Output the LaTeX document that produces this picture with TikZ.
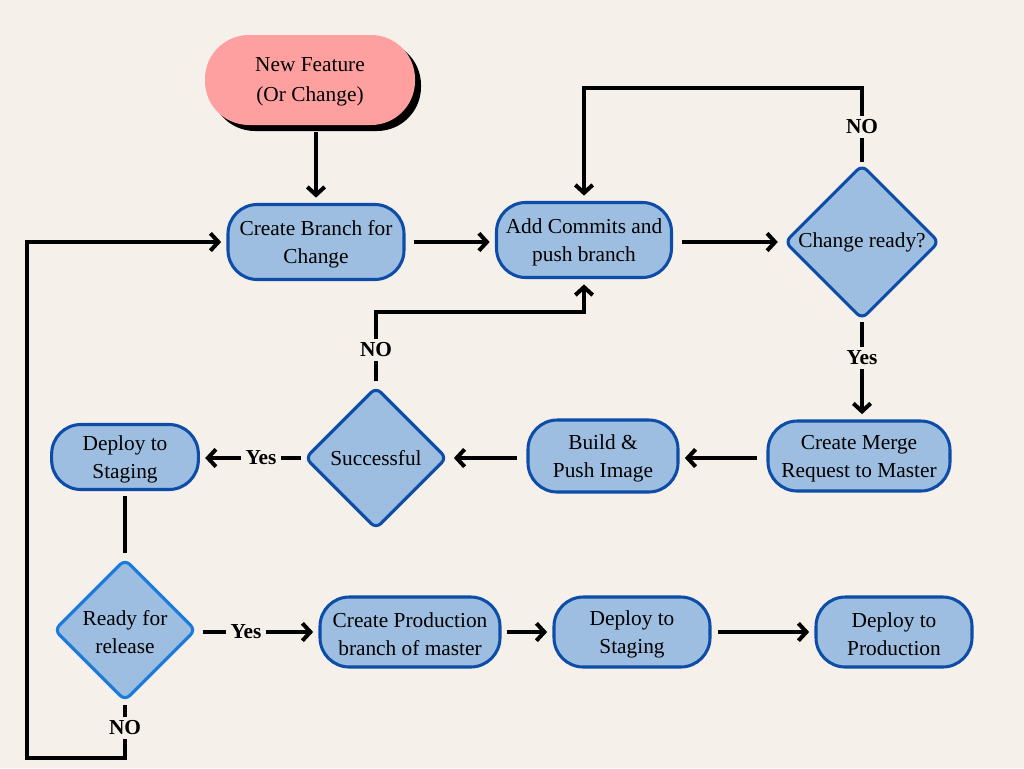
\documentclass[tikz,border=0pt]{standalone}
\usepackage{fontspec}
\setmainfont{Liberation Serif}
\usetikzlibrary{shapes.geometric,arrows.meta,shadows}
\definecolor{bg}{HTML}{F5F0EA}
\definecolor{boxfill}{HTML}{9DBEE0}
\definecolor{boxline}{HTML}{0D4DA8}
\definecolor{lightline}{HTML}{1A7BDB}
\definecolor{pinkfill}{HTML}{FFA0A0}
\newcommand\tbump{\rule{0pt}{14.5pt}}
\tikzset{
  box/.style={draw=boxline, fill=boxfill, line width=2.3pt, rounded corners=22pt,
    align=center, inner sep=0pt, font=\fontsize{16}{21.5}\selectfont},
  dmd/.style={diamond, aspect=1, draw=boxline, fill=boxfill, line width=2.3pt,
    rounded corners=5pt, align=center, inner sep=0pt, font=\fontsize{16}{21.5}\selectfont},
  startbox/.style={fill=pinkfill, rounded corners=33pt, align=center, inner sep=0pt,
    minimum width=157.5pt, minimum height=67.5pt, font=\fontsize{16}{22.5}\selectfont,
    drop shadow={shadow xshift=4.5pt, shadow yshift=-4.5pt, fill=black, opacity=1}},
  lbl/.style={font=\fontsize{16}{19}\selectfont\bfseries, inner sep=3pt},
  conn/.style={line width=3pt, draw=black},
  arr/.style={conn, -{Straight Barb[length=6pt,width=13pt,line width=3pt]}, shorten >=4pt},
}
\begin{document}
\begin{tikzpicture}[x=0.75pt,y=-0.75pt]
\useasboundingbox (0,0) rectangle (1024,768);
\fill[bg] (0,0) rectangle (1024,768);

\node[startbox] (nf) at (310,80) {\rule{0pt}{13pt}New Feature\\(Or Change)};
\node[box, minimum width=132pt, minimum height=56.25pt] (cb) at (316,242) {\tbump Create Branch for\\Change};
\node[box, minimum width=131.25pt, minimum height=56.25pt] (ac) at (584,240) {\tbump Add Commits and\\push branch};
\node[dmd, minimum width=116pt, minimum height=116pt] (cr) at (862,242) {Change ready?};
\node[box, minimum width=136.5pt, minimum height=52.5pt] (cm) at (859,456) {\tbump Create Merge\\Request to Master};
\node[box, minimum width=112.5pt, minimum height=54pt] (bp) at (603,456) {\tbump Build \&\\Push Image};
\node[dmd, minimum width=106.5pt, minimum height=106.5pt] (sc) at (376,458) {Successful};
\node[box, minimum width=110pt, minimum height=48.75pt] (ds1) at (125,457) {\tbump Deploy to\\Staging};
\node[dmd, draw=lightline, minimum width=106.5pt, minimum height=106.5pt] (rr) at (125,630) {\tbump Ready for\\release};
\node[box, minimum width=135pt, minimum height=52.5pt] (cp) at (410,632) {\tbump Create Production\\branch of master};
\node[box, minimum width=117pt, minimum height=52.5pt] (ds2) at (632,632) {\tbump Deploy to\\Staging};
\node[box, minimum width=117pt, minimum height=52.5pt] (dp) at (894,632) {\tbump Deploy to\\Production};

\node[lbl] (no1) at (862,127) {NO};
\node[lbl] (yes1) at (862,358) {Yes};
\node[lbl] (no2) at (376,350) {NO};
\node[lbl] (yes2) at (261,458) {Yes};
\node[lbl] (yes3) at (246,632) {Yes};
\node[lbl] (no3) at (125,728) {NO};

\coordinate (c1) at (862,88);
\coordinate (c2) at (376,312);
\coordinate (c4) at (27,758);

\draw[arr, shorten <=5pt] (cb.north |- nf.south) -- (cb.north);
\draw[arr, shorten <=6pt] (cb.east) -- (cb.east -| ac.west);
\draw[arr, shorten <=7pt] (ac.east |- cr.west) -- (cr.west);
\draw[conn, shorten <=1pt] (cr.north) -- (no1);
\draw[arr] (no1) -- (c1) -| (ac.north);
\draw[conn, shorten <=1pt] (cr.south) -- (yes1);
\draw[arr] (yes1) -- (yes1 |- cm.north);
\draw[arr, shorten <=7pt] (cm.west |- sc.east) -- (bp.east |- sc.east);
\draw[arr, shorten <=7pt] (bp.west |- sc.east) -- (sc.east);
\draw[conn, shorten <=3pt] (sc.north) -- (no2);
\draw[arr] (no2) -- (c2) -| (ac.south);
\draw[conn, shorten <=2pt] (sc.west) -- (yes2);
\draw[arr] (yes2) -- (yes2 -| ds1.east);
\draw[conn, shorten <=4pt, shorten >=3pt] (ds1.south) -- (rr.north);
\draw[conn, shorten <=4pt] (rr.east |- yes3) -- (yes3);
\draw[arr] (yes3) -- (cp.west);
\draw[arr, shorten <=4pt] (cp.east) -- (ds2.west);
\draw[arr, shorten <=5pt] (ds2.east) -- (dp.west);
\draw[conn, shorten <=2pt] (rr.south) -- (no3);
\draw[arr] (no3) |- (c4) |- (cb.west);
\end{tikzpicture}
\end{document}
